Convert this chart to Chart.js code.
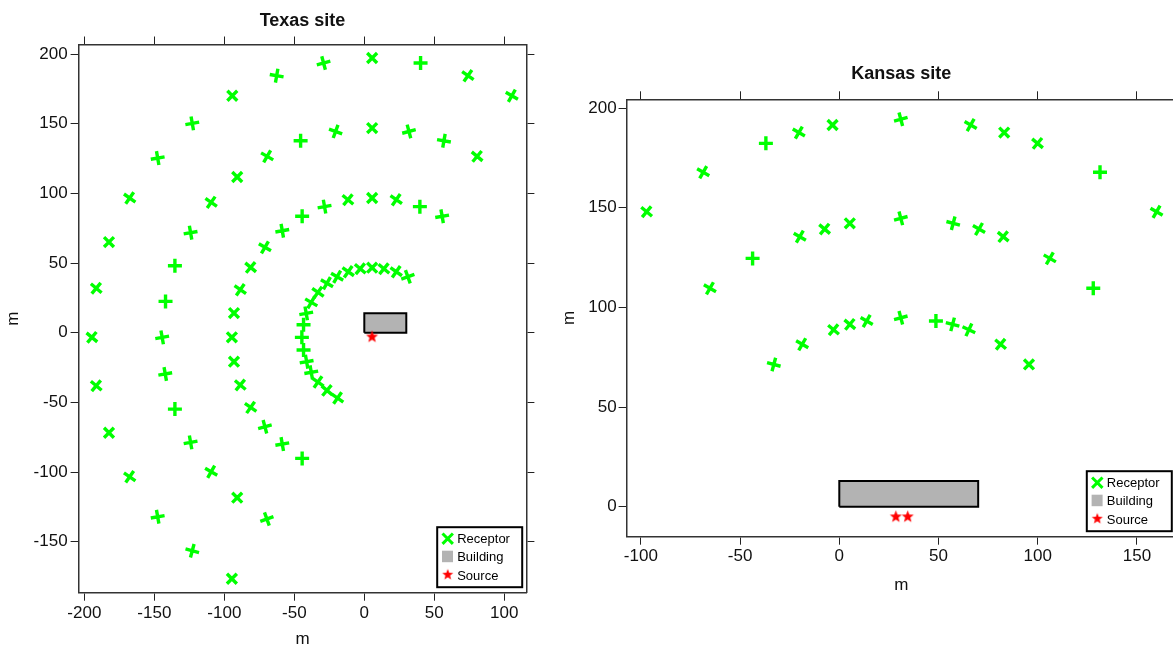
<!DOCTYPE html>
<html>
<head>
<meta charset="utf-8">
<script src="https://cdn.jsdelivr.net/npm/chart.js@4.4.1/dist/chart.umd.min.js"></script>
<style>
  html, body { margin: 0; padding: 0; width: 1173px; height: 651px; overflow: hidden; background: #fff; }
  .panel { position: absolute; top: 0; }
  #texasPanel { left: 0; }
  #kansasPanel { left: 548px; }
</style>
</head>
<body>
<div class="panel" id="texasPanel"><canvas id="texas" width="560" height="651"></canvas></div>
<div class="panel" id="kansasPanel"><canvas id="kansas" width="640" height="651"></canvas></div>
<script>
// ---------- Texas site (m) ----------
const texasXTicks = [-200, -150, -100, -50, 0, 50, 100];
const texasYTicks = [-150, -100, -50, 0, 50, 100, 150, 200];

// receptor rings, listed along each arc from the upper-right end
const texasRing200 = [[105.4,170.1],[74.0,184.5],[40.2,193.6],[5.6,197.2],[-29.1,193.6],[-62.6,184.5],[-94.3,170.1],[-122.9,150.3],[-147.6,125.4],[-167.6,96.7],[-182.4,65.1],[-191.5,31.9],[-194.6,-3.3],[-191.5,-38.0],[-182.4,-71.8],[-167.6,-103.4],[-147.6,-132.1],[-122.9,-156.5],[-94.6,-176.6]];
const texasRing150 = [[80.6,126.6],[56.9,137.8],[31.9,144.5],[5.6,146.9],[-20.5,144.5],[-45.5,137.8],[-69.4,126.6],[-90.8,111.8],[-109.4,93.6],[-124.1,71.8],[-135.3,48.1],[-142.0,22.5],[-144.4,-3.3],[-142.2,-29.6],[-135.3,-54.8],[-124.1,-78.7],[-109.4,-99.8],[-90.8,-118.4],[-69.6,-133.7]];
const texasRing100 = [[55.6,83.6],[39.7,90.5],[22.8,95.5],[5.6,96.7],[-11.7,95.5],[-28.4,90.5],[-44.4,83.6],[-58.6,73.2],[-71.0,61.3],[-81.2,46.9],[-88.6,30.9],[-93.1,14.1],[-94.6,-3.3],[-93.1,-20.8],[-88.6,-37.5],[-81.2,-53.6],[-71.0,-67.5],[-58.6,-79.9],[-44.4,-90.2]];
const texasRing50 = [[31.1,40.2],[22.8,43.8],[14.0,45.9],[5.6,46.7],[-2.9,45.9],[-11.5,43.8],[-19.4,40.2],[-26.7,35.5],[-33.1,29.0],[-37.9,21.8],[-41.5,13.9],[-43.4,5.7],[-44.6,-3.3],[-43.4,-12.4],[-41.2,-20.8],[-37.9,-28.4],[-33.1,-35.4],[-26.7,-41.4],[-19.1,-46.9]];
const texasSources = [[5.5,-3.0]];
const texasBuilding = [[0,0],[30,0],[30,14],[0,14],[0,0]];

// ---------- Kansas site (m) ----------
const kansasXTicks = [-100, -50, 0, 50, 100, 150];
const kansasYTicks = [0, 50, 100, 150, 200];

const kansasRing200 = [[-97.1,148.0],[-68.6,167.8],[-37.0,182.3],[-20.4,187.7],[-3.4,191.5],[31.0,194.4],[66.2,191.5],[83.1,187.7],[99.9,182.3],[131.4,167.8],[159.9,148.0]];
const kansasRing150 = [[-65.2,109.6],[-43.7,124.6],[-19.9,135.5],[-7.4,139.3],[5.3,142.2],[31.0,144.7],[57.4,142.2],[70.4,139.3],[82.6,135.5],[106.1,124.6],[128.0,109.6]];
const kansasRing100 = [[-33.0,71.4],[-18.7,81.5],[-2.9,88.8],[5.3,91.5],[13.8,93.2],[31.0,94.8],[48.7,93.2],[57.1,91.5],[65.3,88.8],[81.3,81.5],[95.6,71.4]];
const kansasSources = [[28.5,-5.0],[34.5,-5.0]];
const kansasBuilding = [[0,0],[70,0],[70,13],[0,13],[0,0]];

// marker tilt (degrees) for each receptor, same order as the rings
const texasTurn200 = [30,35,0,45,-15,10,45,-10,-10,35,45,40,40,40,45,35,-10,15,45];
const texasTurn150 = [40,10,-15,45,20,0,30,45,35,-10,0,0,-10,-10,0,-10,30,45,-20];
const texasTurn100 = [-10,0,35,45,40,-10,0,-10,30,40,35,45,45,45,40,35,-15,-10,0];
const texasTurn50  = [-20,35,40,45,40,35,30,30,35,30,-10,0,0,0,-10,-10,35,40,35];
const kansasTurn200 = [40,30,0,30,45,-15,30,45,40,0,30];
const kansasTurn150 = [30,0,30,40,45,-15,15,30,40,30,0];
const kansasTurn100 = [15,30,40,40,30,-15,0,15,25,40,45];

const FONT = "'Liberation Sans', Arial, Helvetica, sans-serif";
const GREEN = '#00ff00', RED = '#ff0000', GREY = '#b3b3b3';

function pts(list) { return list.map(([x, y]) => ({ x, y })); }

function starImage(r, color) {
  const c = document.createElement('canvas');
  const s = Math.ceil(r * 2 + 2);
  c.width = s; c.height = s;
  const g = c.getContext('2d');
  g.fillStyle = color;
  g.beginPath();
  for (let i = 0; i < 10; i++) {
    const rr = i % 2 ? r * 0.42 : r;
    const a = -Math.PI / 2 + i * Math.PI / 5;
    g.lineTo(s / 2 + rr * Math.cos(a), s / 2 + rr * Math.sin(a));
  }
  g.closePath();
  g.fill();
  return c;
}
const STAR = starImage(6.4, RED);
const STAR_KEY = starImage(5.8, RED);

function ringSet(list, turns) {
  return {
    data: pts(list),
    pointStyle: 'cross',
    pointRadius: 7,
    pointBorderWidth: 3.4,
    pointBorderColor: GREEN,
    pointBackgroundColor: GREEN,
    pointRotation: c => turns[c.dataIndex] || 0,
    showLine: false,
    order: 2
  };
}
function sourceSet(list) {
  return { data: pts(list), pointStyle: STAR, pointRadius: 6, showLine: false, order: 1 };
}
function buildingSet(list) {
  return {
    data: pts(list), showLine: true, fill: 'shape', tension: 0,
    backgroundColor: GREY, borderColor: '#000', borderWidth: 2,
    borderJoinStyle: 'miter', pointRadius: 0, order: 3
  };
}

// legend drawn inside the lower-right corner of the plot area
const cornerKey = {
  id: 'cornerKey',
  afterDraw(chart) {
    const { ctx, chartArea: a } = chart;
    const w = 85, h = 60;
    const L = a.right - 4.2 - w, T = a.bottom - 5.5 - h;
    ctx.save();
    ctx.fillStyle = '#fff';
    ctx.fillRect(L, T, w, h);
    ctx.lineWidth = 2;
    ctx.strokeStyle = '#000';
    ctx.strokeRect(L, T, w, h);
    // receptor glyph
    const cx = L + 10.5, cy = T + 11.5, r = 5.2;
    ctx.strokeStyle = GREEN;
    ctx.lineWidth = 3;
    ctx.beginPath();
    ctx.moveTo(cx - r, cy - r); ctx.lineTo(cx + r, cy + r);
    ctx.moveTo(cx - r, cy + r); ctx.lineTo(cx + r, cy - r);
    ctx.stroke();
    // building glyph
    ctx.fillStyle = GREY;
    ctx.fillRect(L + 4.8, T + 23.5, 11, 11.5);
    // source glyph
    ctx.drawImage(STAR_KEY, L + 10.5 - STAR_KEY.width / 2, T + 47.5 - STAR_KEY.height / 2);
    ctx.fillStyle = '#000';
    ctx.font = '13px ' + FONT;
    ctx.textBaseline = 'middle';
    ctx.textAlign = 'left';
    ctx.fillText('Receptor', L + 20, T + 12.5);
    ctx.fillText('Building', L + 20, T + 30.5);
    ctx.fillText('Source', L + 20, T + 49);
    ctx.restore();
  }
};

function axis(pos, min, max, ticks, size, opt) {
  const horizontal = pos === 'top' || pos === 'bottom';
  return {
    type: 'linear', position: pos, min, max, display: true,
    afterBuildTicks: s => { s.ticks = ticks.map(v => ({ value: v })); },
    afterFit: s => { if (horizontal) s.height = size; else s.width = size; },
    grid: { display: true, drawOnChartArea: false, drawTicks: true, tickLength: 8, tickWidth: 1, tickColor: '#222' },
    border: { display: true, color: '#333', width: 1.5 },
    ticks: {
      display: !!opt.labels, padding: opt.pad || 0, color: '#111',
      font: { family: FONT, size: 17 }, callback: v => String(v), autoSkip: false, maxRotation: 0
    },
    title: opt.title ? {
      display: true, text: opt.title, color: '#111',
      font: { family: FONT, size: opt.bold ? 18 : 17, weight: opt.bold ? 'bold' : 'normal' },
      padding: opt.titlePad
    } : { display: false }
  };
}

function site(canvasId, datasets, r) {
  return new Chart(document.getElementById(canvasId), {
    type: 'scatter',
    data: { datasets },
    options: {
      responsive: false, animation: false, events: [],
      layout: { padding: 0, autoPadding: false },
      plugins: { legend: { display: false }, tooltip: { enabled: false }, title: { display: false } },
      scales: {
        x: axis('bottom', r.xMin, r.xMax, r.xTicks, r.bottom, { labels: true, pad: r.xPad, title: 'm', titlePad: { top: 0, bottom: r.xTitleGap } }),
        x2: axis('top', r.xMin, r.xMax, r.xTicks, r.top, { labels: false, title: r.name, bold: true, titlePad: { top: r.nameGap, bottom: 0 } }),
        y: axis('left', r.yMin, r.yMax, r.yTicks, r.left, { labels: true, pad: r.yPad, title: 'm', titlePad: { top: r.yTitleGap, bottom: 0 } }),
        y2: axis('right', r.yMin, r.yMax, r.yTicks, r.right, { labels: false })
      }
    },
    plugins: [cornerKey]
  });
}

site('texas', [
  sourceSet(texasSources),
  ringSet(texasRing200, texasTurn200),
  ringSet(texasRing150, texasTurn150),
  ringSet(texasRing100, texasTurn100),
  ringSet(texasRing50, texasTurn50),
  buildingSet(texasBuilding)
], {
  name: 'Texas site', xMin: -204.1, xMax: 115.8, yMin: -186.6, yMax: 206.9,
  xTicks: texasXTicks, yTicks: texasYTicks,
  left: 78.6, right: 33.6, top: 44.5, bottom: 58.3,
  xPad: 2, yPad: 3, xTitleGap: 1.8, yTitleGap: 3.3, nameGap: 10.2
});

site('kansas', [
  sourceSet(kansasSources),
  ringSet(kansasRing200, kansasTurn200),
  ringSet(kansasRing150, kansasTurn150),
  ringSet(kansasRing100, kansasTurn100),
  buildingSet(kansasBuilding)
], {
  name: 'Kansas site', xMin: -107.2, xMax: 169.7, yMin: -15.0, yMax: 204.4,
  xTicks: kansasXTicks, yTicks: kansasYTicks,
  left: 78.6, right: 12, top: 99.3, bottom: 114.3,
  xPad: 1, yPad: 2, xTitleGap: 55.8, yTitleGap: 10.8, nameGap: 63.6
});
</script>
</body>
</html>
